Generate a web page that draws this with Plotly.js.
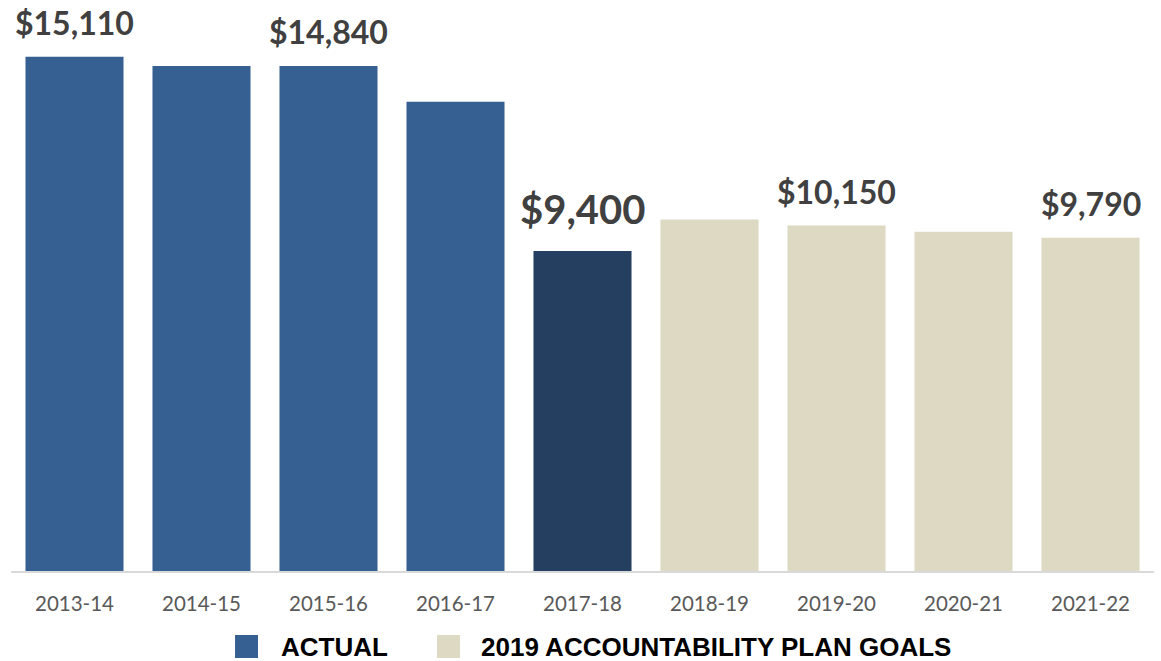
<!DOCTYPE html>
<html>
<head>
<meta charset="utf-8">
<script src="https://cdn.plot.ly/plotly-3.0.1.min.js"></script>
<style>
html, body { margin: 0; padding: 0; background: #ffffff; }
#chart { width: 1161px; height: 661px; }
</style>
</head>
<body>
<div id="chart"></div>
<script>
// ---- data ----
const actualYears = ['2013-14', '2014-15', '2015-16', '2016-17', '2017-18'];
const actualValues = [15110, 14840, 14840, 13790, 9400];
const goalYears = ['2018-19', '2019-20', '2020-21', '2021-22'];
const goalValues = [10330, 10150, 9970, 9790];
const allYears = actualYears.concat(goalYears);
const labelYears = ['2013-14', '2015-16', '2017-18', '2019-20', '2021-22'];
const labelValues = [15110, 14840, 9400, 10150, 9790];
const labelTexts = ['$15,110', '$14,840', '$9,400', '$10,150', '$9,790'];
const seriesNames = ['ACTUAL', '2019 ACCOUNTABILITY PLAN GOALS'];

// ---- style ----
const colActual = '#366092';
const colLatest = '#243F60';
const colGoal = '#DDD9C3';
const actualColors = actualYears.map((y, i) => i === actualYears.length - 1 ? colLatest : colActual);

const traces = [
  {
    type: 'bar', name: seriesNames[0], x: actualYears, y: actualValues,
    marker: { color: actualColors }, hoverinfo: 'x+y', showlegend: false
  },
  {
    type: 'bar', name: seriesNames[1], x: goalYears, y: goalValues,
    marker: { color: colGoal }, hoverinfo: 'x+y', showlegend: false
  }
];

const annotations = labelYears.map((yr, i) => {
  const big = labelTexts[i] === '$9,400';
  return {
    x: yr, y: labelValues[i], xref: 'x', yref: 'y',
    text: labelTexts[i], showarrow: false,
    xanchor: 'center', yanchor: 'bottom',
    yshift: big ? 16 : 13,
    font: { family: 'Lato, sans-serif', size: big ? 40 : 32, color: '#404040', weight: 'bold' }
  };
});

// custom legend (large squares as in the reference)
const legFont = { family: '"Liberation Sans", Arial, sans-serif', size: 26, color: '#000000', weight: 'bold' };
annotations.push({
  xref: 'paper', yref: 'paper', x: 0.2345, y: -0.1346, xanchor: 'left', yanchor: 'middle',
  text: seriesNames[0], showarrow: false, font: legFont
});
annotations.push({
  xref: 'paper', yref: 'paper', x: 0.4095, y: -0.1346, xanchor: 'left', yanchor: 'middle',
  text: seriesNames[1], showarrow: false, font: legFont
});
const shapes = [
  { type: 'rect', xref: 'paper', yref: 'paper', x0: 0.1960, x1: 0.2161, y0: -0.1551, y1: -0.1141,
    fillcolor: colActual, line: { width: 0 } },
  { type: 'rect', xref: 'paper', yref: 'paper', x0: 0.3727, x1: 0.3928, y0: -0.1551, y1: -0.1141,
    fillcolor: colGoal, line: { width: 0 } }
];

const layout = {
  width: 1161, height: 661,
  margin: { l: 11, r: 7, t: 10, b: 90, pad: 0 },
  paper_bgcolor: '#ffffff', plot_bgcolor: '#ffffff',
  barmode: 'overlay', bargap: 0.228,
  showlegend: false,
  xaxis: {
    type: 'category', categoryorder: 'array', categoryarray: allYears,
    showline: true, linecolor: '#D9D9D9', linewidth: 2,
    showgrid: false, zeroline: false, ticks: '',
    ticklabelstandoff: 13,
    tickfont: { family: 'Lato, sans-serif', size: 20.5, color: '#595959' }
  },
  yaxis: {
    range: [0, 16485], visible: false, showgrid: false, zeroline: false, fixedrange: true
  },
  annotations: annotations,
  shapes: shapes,
  font: { family: 'Lato, sans-serif' }
};

Plotly.newPlot('chart', traces, layout, { displayModeBar: false, staticPlot: true });
</script>
</body>
</html>
